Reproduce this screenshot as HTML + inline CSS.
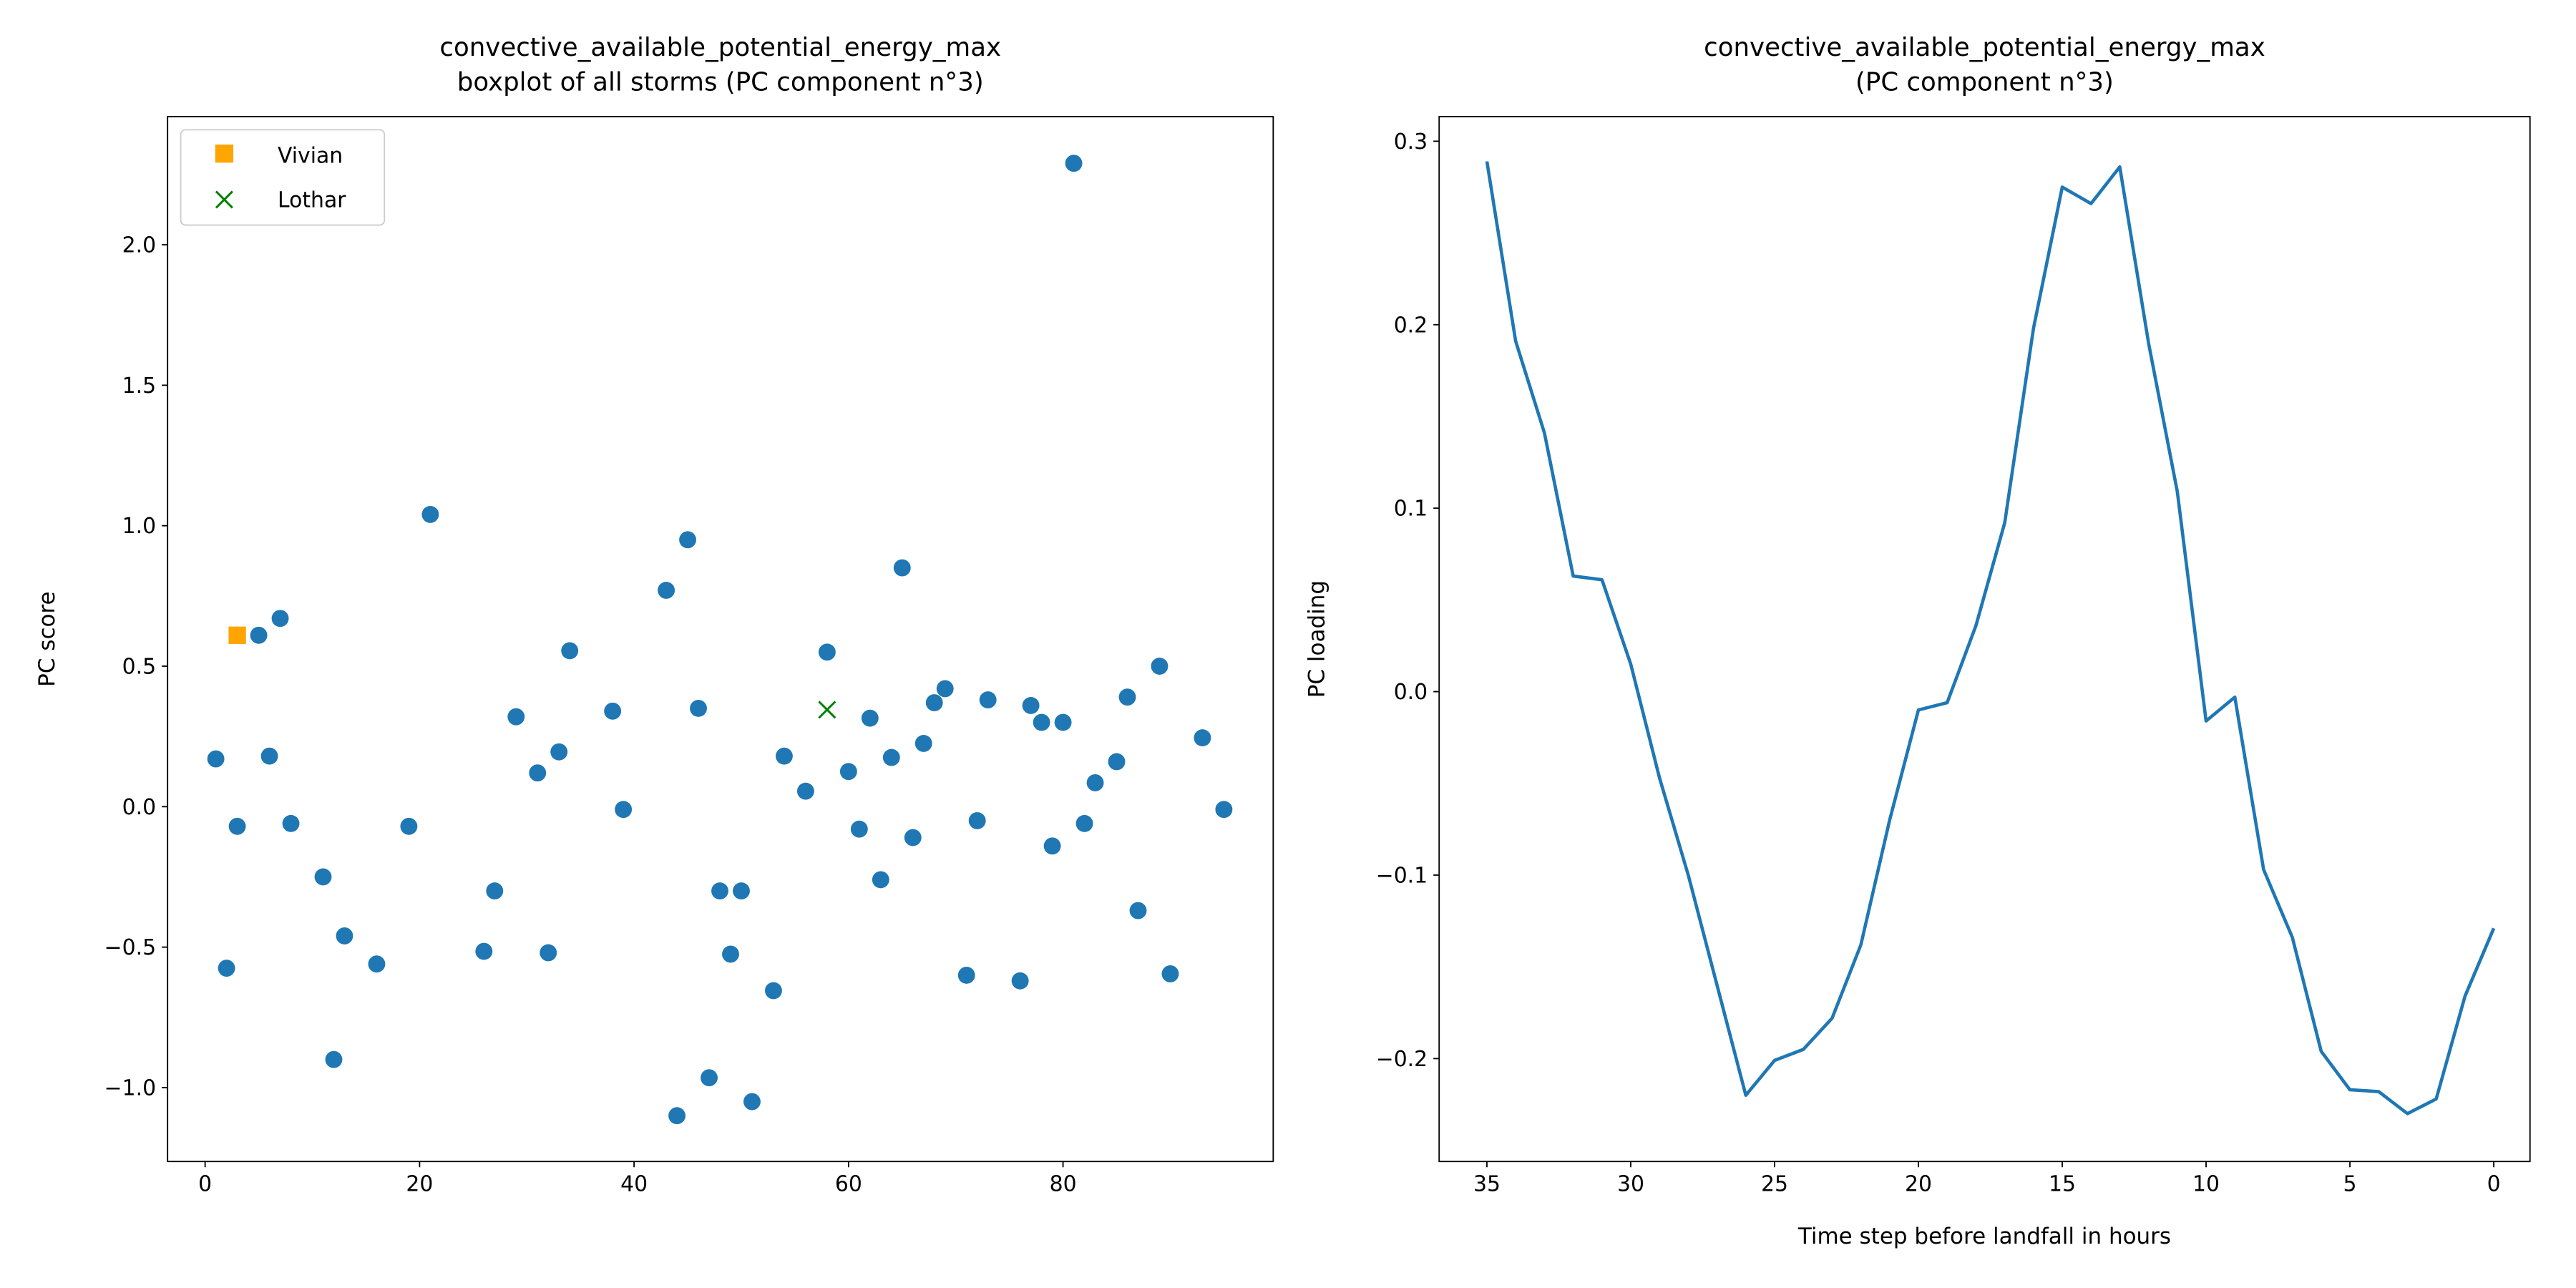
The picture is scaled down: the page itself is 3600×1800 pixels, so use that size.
<!DOCTYPE html>
<html><head><meta charset="utf-8"><style>
html,body{margin:0;padding:0;background:#fff}
svg{display:block}
text{font-family:"DejaVu Sans","Liberation Sans",sans-serif;fill:#000}
</style></head><body>
<svg id="chart" width="3600" height="1800" viewBox="0 0 1568 784" xmlns="http://www.w3.org/2000/svg">
<rect width="1568" height="784" fill="#fff"/>
<g id="left"></g>
<g id="right"></g>
</svg>
<script>
const stormIds=[1,2,3,5,6,7,8,11,12,13,16,19,21,26,27,29,31,32,33,34,38,39,43,44,45,46,47,48,49,50,51,53,54,56,58,60,61,62,63,64,65,66,67,68,69,71,72,73,76,77,78,79,80,81,82,83,85,86,87,89,90,93,95];
const stormScores=[0.17,-0.575,-0.07,0.61,0.18,0.67,-0.06,-0.25,-0.9,-0.46,-0.56,-0.07,1.04,-0.515,-0.3,0.32,0.12,-0.52,0.195,0.555,0.34,-0.01,0.77,-1.1,0.95,0.35,-0.965,-0.3,-0.525,-0.3,-1.05,-0.655,0.18,0.055,0.55,0.125,-0.08,0.315,-0.26,0.175,0.85,-0.11,0.225,0.37,0.42,-0.6,-0.05,0.38,-0.62,0.36,0.3,-0.14,0.3,2.29,-0.06,0.085,0.16,0.39,-0.37,0.5,-0.595,0.245,-0.01];
const vivian=[3,0.61];
const lothar=[58,0.345];
const leftXTicks=[0,20,40,60,80];
const leftYTicks=[-1.0,-0.5,0.0,0.5,1.0,1.5,2.0];
const timeSteps=[35,34,33,32,31,30,29,28,27,26,25,24,23,22,21,20,19,18,17,16,15,14,13,12,11,10,9,8,7,6,5,4,3,2,1,0];
const loadings=[0.289,0.191,0.141,0.063,0.061,0.015,-0.047,-0.1,-0.16,-0.22,-0.201,-0.195,-0.178,-0.138,-0.07,-0.01,-0.006,0.036,0.092,0.198,0.275,0.266,0.286,0.19,0.109,-0.016,-0.003,-0.097,-0.134,-0.196,-0.217,-0.218,-0.23,-0.222,-0.166,-0.129];
const rightXTicks=[35,30,25,20,15,10,5,0];
const rightYTicks=[-0.2,-0.1,0.0,0.1,0.2,0.3];

const NS="http://www.w3.org/2000/svg";
function mk(parent,tag,attrs,txt){const e=document.createElementNS(NS,tag);for(const k in attrs)e.setAttribute(k,attrs[k]);if(txt!==undefined)e.textContent=txt;parent.appendChild(e);return e;}
function fmt(v,d){let s=v.toFixed(d);if(v<0)s='\u2212'+s.slice(1);return s;}

function axes(g,L,R,T,B,xs,ys,xt,yt,xd,yd){
  mk(g,'rect',{x:L,y:T,width:R-L,height:B-T,fill:'none',stroke:'#000','stroke-width':0.8});
  xt.forEach(v=>{const x=xs(v);
    const t=mk(g,'line',{x1:x,x2:x,y1:B,y2:B+3.5,stroke:'#000','stroke-width':0.8});
    
    const l=mk(g,'text',{x:x,y:B+18,'font-size':13,'text-anchor':'middle'},fmt(v,xd));
    });
  yt.forEach(v=>{const y=ys(v);
    const t=mk(g,'line',{x1:L-3.5,x2:L,y1:y,y2:y,stroke:'#000','stroke-width':0.8});
    
    const l=mk(g,'text',{x:L-7,y:y+4.6,'font-size':13,'text-anchor':'end'},fmt(v,yd));
    });
}

(function(){
  const g=document.getElementById('left');
  const L=102,R=775,T=71,B=707;
  const x0=-3.5,x1=99.6,y0=-1.263,y1=2.456;
  const xs=v=>L+(v-x0)/(x1-x0)*(R-L);
  const ys=v=>B-(v-y0)/(y1-y0)*(B-T);
  stormIds.forEach((id,i)=>{
    const c=mk(g,'circle',{cx:xs(id),cy:ys(stormScores[i]),r:5.2,fill:'#1f77b4'});
    
    
  });
  const sq=mk(g,'rect',{x:xs(vivian[0])-5.3,y:ys(vivian[1])-5.3,width:10.6,height:10.6,fill:'#ffa500'});
  
  
  const lx=xs(lothar[0]),ly=ys(lothar[1]);
  const xm=mk(g,'path',{d:`M${lx-5} ${ly-5}L${lx+5} ${ly+5}M${lx-5} ${ly+5}L${lx+5} ${ly-5}`,stroke:'#008000','stroke-width':1.3,fill:'none'});
  
  
  axes(g,L,R,T,B,xs,ys,leftXTicks,leftYTicks,0,1);
  const t1=mk(g,'text',{x:(L+R)/2,y:34,'font-size':15.5,'text-anchor':'middle'},'convective_available_potential_energy_max');
  
  const t2=mk(g,'text',{x:(L+R)/2,y:55,'font-size':15.5,'text-anchor':'middle'},'boxplot of all storms (PC component n°3)');
  
  const yl=mk(g,'text',{x:0,y:0,'font-size':13.5,'text-anchor':'middle',transform:`translate(33 ${(T+B)/2}) rotate(-90)`},'PC score');
  
  const lg=mk(g,'g',{});
  
  mk(lg,'rect',{x:110,y:79,width:124,height:58,rx:3,fill:'#fff',stroke:'#ccc','stroke-width':0.8});
  mk(lg,'rect',{x:131,y:88,width:11,height:11,fill:'#ffa500'});
  mk(lg,'text',{x:169,y:99,'font-size':13},'Vivian');
  mk(lg,'path',{d:'M131.5 116.5L141.5 126.5M131.5 126.5L141.5 116.5',stroke:'#008000','stroke-width':1.3});
  mk(lg,'text',{x:169,y:126,'font-size':13},'Lothar');
})();

(function(){
  const g=document.getElementById('right');
  const L=876,R=1540,T=71,B=707;
  const x0=36.66,x1=-1.26,y0=-0.2561,y1=0.3134;
  const xs=v=>L+(v-x0)/(x1-x0)*(R-L);
  const ys=v=>B-(v-y0)/(y1-y0)*(B-T);
  const d=timeSteps.map((t,i)=>(i?'L':'M')+xs(t).toFixed(2)+' '+ys(loadings[i]).toFixed(2)).join('');
  const p=mk(g,'path',{d:d,fill:'none',stroke:'#1f77b4','stroke-width':2,'stroke-linejoin':'round'});
  
  
  axes(g,L,R,T,B,xs,ys,rightXTicks,rightYTicks,0,1);
  const t1=mk(g,'text',{x:(L+R)/2,y:34,'font-size':15.5,'text-anchor':'middle'},'convective_available_potential_energy_max');
  
  const t2=mk(g,'text',{x:(L+R)/2,y:55,'font-size':15.5,'text-anchor':'middle'},'(PC component n°3)');
  
  const xl=mk(g,'text',{x:(L+R)/2,y:757,'font-size':13.5,'text-anchor':'middle'},'Time step before landfall in hours');
  
  const yl=mk(g,'text',{x:0,y:0,'font-size':13.5,'text-anchor':'middle',transform:`translate(806 ${(T+B)/2}) rotate(-90)`},'PC loading');
  
})();
</script>
</body></html>
